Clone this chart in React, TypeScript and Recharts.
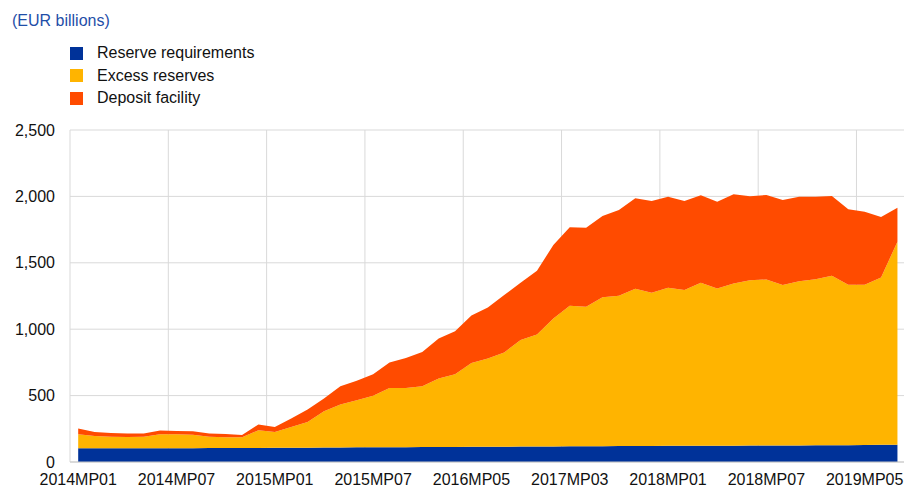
import { Area, AreaChart, CartesianGrid, XAxis, YAxis } from "recharts";

// Maintenance periods: 12 in 2014, 8 per year from 2015
const periods = [
  "2014MP01", "2014MP02", "2014MP03", "2014MP04", "2014MP05", "2014MP06",
  "2014MP07", "2014MP08", "2014MP09", "2014MP10", "2014MP11", "2014MP12",
  "2015MP01", "2015MP02", "2015MP03", "2015MP04", "2015MP05", "2015MP06", "2015MP07", "2015MP08",
  "2016MP01", "2016MP02", "2016MP03", "2016MP04", "2016MP05", "2016MP06", "2016MP07", "2016MP08",
  "2017MP01", "2017MP02", "2017MP03", "2017MP04", "2017MP05", "2017MP06", "2017MP07", "2017MP08",
  "2018MP01", "2018MP02", "2018MP03", "2018MP04", "2018MP05", "2018MP06", "2018MP07", "2018MP08",
  "2019MP01", "2019MP02", "2019MP03", "2019MP04", "2019MP05", "2019MP06", "2019MP07"
];

const reserveRequirements = [
  103, 103, 103, 103, 104, 104, 104, 104, 105, 105, 105, 106,
  107, 108, 108, 109, 110, 111, 112, 112,
  112, 113, 113, 113, 114, 115, 115, 116,
  116, 117, 118, 118, 119, 120, 121, 121,
  122, 122, 123, 123, 123, 124, 124, 125,
  125, 126, 126, 127, 128, 129, 130
];

const excessReserves = [
  106, 93, 88, 86, 87, 105, 105, 102, 86, 81, 81, 133,
  119, 156, 194, 273, 323, 354, 386, 446,
  446, 458, 516, 548, 631, 665, 710, 802,
  845, 964, 1058, 1051, 1121, 1132, 1184, 1154,
  1190, 1173, 1227, 1184, 1222, 1244, 1251, 1207,
  1237, 1251, 1276, 1208, 1207, 1261, 1529
];

const depositFacility = [
  43, 30, 28, 25, 23, 28, 25, 25, 23, 24, 18, 43,
  38, 63, 93, 96, 138, 146, 163, 191,
  226, 258, 301, 324, 358, 384, 432, 432,
  479, 553, 591, 595, 613, 646, 681, 691,
  686, 671, 659, 653, 671, 633, 636, 641,
  636, 621, 601, 568, 550, 455, 256
];

const tickLabels = [
  "2014MP01", "2014MP07", "2015MP01", "2015MP07", "2016MP05",
  "2017MP03", "2018MP01", "2018MP07", "2019MP05"
];

const yTicks = [0, 500, 1000, 1500, 2000, 2500];

const series = [
  { key: "reserve", name: "Reserve requirements", color: "#003299" },
  { key: "excess", name: "Excess reserves", color: "#FFB400" },
  { key: "deposit", name: "Deposit facility", color: "#FF4B00" }
];

const data = periods.map((period, idx) => ({
  idx,
  period,
  reserve: reserveRequirements[idx],
  excess: excessReserves[idx],
  deposit: depositFacility[idx]
}));

const labelTicks = tickLabels.map((label) => periods.indexOf(label));
// vertical grid lines sit on the boundary before each labelled period
const gridTicks = labelTicks.map((i) => i - 0.5);
const xDomain = [-0.5, 50.4];

const FONT = "Arial, 'Liberation Sans', Helvetica, sans-serif";

export default function App() {
  return (
    <div
      style={{
        position: "fixed",
        left: 0,
        top: 0,
        width: 904,
        height: 488,
        overflow: "hidden",
        background: "#fff",
        fontFamily: FONT
      }}
    >
      <div
        style={{
          position: "absolute",
          left: 12,
          top: 11,
          fontSize: 16,
          lineHeight: "20px",
          color: "#1f4ea8"
        }}
      >
        (EUR billions)
      </div>
      <div style={{ position: "absolute", left: 70, top: 42 }}>
        {series.map((s) => (
          <div
            key={s.key}
            style={{ display: "flex", alignItems: "center", height: 22.5 }}
          >
            <span
              style={{
                display: "inline-block",
                width: 13,
                height: 13,
                background: s.color,
                marginRight: 14
              }}
            />
            <span style={{ fontSize: 16, color: "#111" }}>{s.name}</span>
          </div>
        ))}
      </div>
      <AreaChart
        width={904}
        height={488}
        data={data}
        margin={{ top: 130, right: 0, bottom: 0, left: 0 }}
        style={{ position: "absolute", left: 0, top: 0 }}
      >
        <CartesianGrid stroke="#d9d9d9" verticalValues={gridTicks} />
        <XAxis
          dataKey="idx"
          type="number"
          domain={xDomain}
          allowDataOverflow
          ticks={labelTicks}
          interval={0}
          tickFormatter={(i: number) => periods[i]}
          tickLine={false}
          tickSize={0}
          tickMargin={12}
          axisLine={{ stroke: "#c8c8c8" }}
          height={26}
          tick={{ fontSize: 16, fill: "#111", fontFamily: FONT }}
        />
        <YAxis
          domain={[0, 2500]}
          ticks={yTicks}
          interval={0}
          width={70}
          tickLine={false}
          axisLine={false}
          tickSize={0}
          tickMargin={15}
          tickFormatter={(v: number) => v.toLocaleString("en-US")}
          tick={{ fontSize: 16, fill: "#111", fontFamily: FONT }}
        />
        {series.map((s) => (
          <Area
            key={s.key}
            dataKey={s.key}
            name={s.name}
            stackId="liquidity"
            type="linear"
            stroke="none"
            fill={s.color}
            fillOpacity={1}
            dot={false}
            activeDot={false}
            isAnimationActive={false}
          />
        ))}
      </AreaChart>
    </div>
  );
}
